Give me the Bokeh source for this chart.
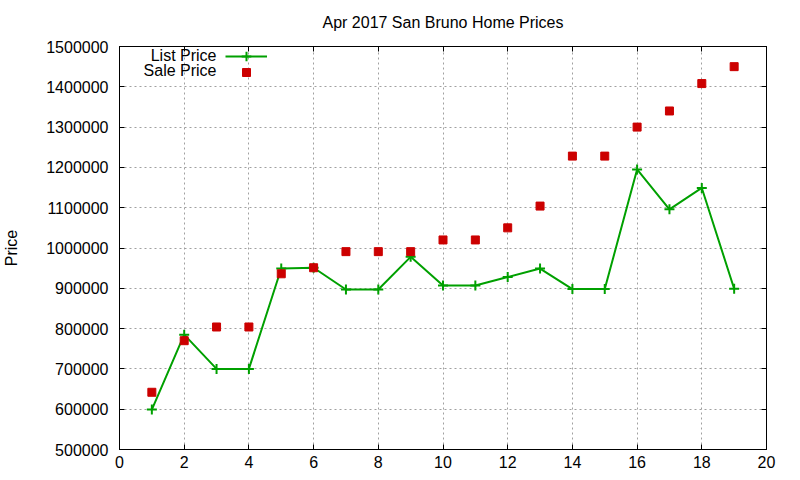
from bokeh.plotting import figure
from bokeh.models import (LinearAxis, Range1d, FixedTicker, BasicTickFormatter,
                          Legend, LegendItem, Label, CustomJSTickFormatter)
from bokeh.embed import file_html
from bokeh.resources import INLINE

# ---- data ----
x_vals = list(range(1, 20))
list_price = [599000, 785000, 700000, 700000, 949000, 951000, 897000, 897000,
              978000, 907000, 907000, 928000, 949000, 898000, 898000,
              1195000, 1096000, 1149000, 899000]
sale_price = [642000, 770000, 804000, 804000, 936000, 951000, 991000, 991000,
              991000, 1020000, 1020000, 1050000, 1104000, 1228000, 1228000,
              1300000, 1340000, 1408000, 1450000]
x_ticks = list(range(0, 21, 2))
y_ticks = list(range(500000, 1500001, 100000))
title_text = "Apr 2017 San Bruno Home Prices"
y_label = "Price"
series_names = ["List Price", "Sale Price"]

FONT = "Liberation Sans"
FS = "16px"
GREEN = "#00a000"
RED = "#cc0000"

p = figure(width=800, height=480,
           x_range=Range1d(0, 20), y_range=Range1d(500000, 1500000),
           output_backend="svg", toolbar_location=None,
           min_border_left=119, min_border_right=34,
           min_border_top=46, min_border_bottom=31)
p.background_fill_color = "white"
p.border_fill_color = "white"
p.outline_line_color = "black"
p.outline_line_width = 1

# axes
p.xaxis.ticker = FixedTicker(ticks=x_ticks)
p.yaxis.ticker = FixedTicker(ticks=y_ticks)
p.yaxis.formatter = BasicTickFormatter(use_scientific=False)
for ax in (p.xaxis[0], p.yaxis[0]):
    ax.major_tick_in = 5
    ax.major_tick_out = 0
    ax.minor_tick_in = 0
    ax.minor_tick_out = 0
    ax.axis_line_color = "black"
    ax.major_tick_line_color = "black"
    ax.major_label_text_font = FONT
    ax.major_label_text_font_size = FS
    ax.major_label_text_color = "black"
p.xaxis.major_label_standoff = 6
p.yaxis.major_label_standoff = 11
p.yaxis.axis_label = y_label
p.yaxis.axis_label_text_font = FONT
p.yaxis.axis_label_text_font_size = FS
p.yaxis.axis_label_text_font_style = "normal"
p.yaxis.axis_label_text_color = "black"
p.yaxis.axis_label_standoff = 23

# mirrored ticks on top and right; the top one carries the chart title
right = LinearAxis(ticker=FixedTicker(ticks=y_ticks),
                   formatter=CustomJSTickFormatter(code="return ''"),
                   major_tick_in=5, major_tick_out=0,
                   minor_tick_in=0, minor_tick_out=0,
                   major_label_standoff=0, axis_line_color="black")
top = LinearAxis(ticker=FixedTicker(ticks=x_ticks),
                 formatter=CustomJSTickFormatter(code="return ''"),
                 major_tick_in=5, major_tick_out=0,
                 minor_tick_in=0, minor_tick_out=0,
                 major_label_standoff=0, axis_line_color="black",
                 axis_label=title_text, axis_label_text_font=FONT,
                 axis_label_text_font_size=FS,
                 axis_label_text_font_style="normal",
                 axis_label_text_color="black",
                 axis_label_standoff=16)
p.add_layout(right, "right")
p.add_layout(top, "above")

# grid
p.xgrid.ticker = FixedTicker(ticks=x_ticks)
p.ygrid.ticker = FixedTicker(ticks=y_ticks)
p.grid.grid_line_color = "#a0a0a0"
p.grid.grid_line_dash = "2 3"
p.grid.grid_line_width = 1

# series
r_line = p.line(x_vals, list_price, line_color=GREEN, line_width=2)
r_lp = p.scatter(x_vals, list_price, marker="cross", size=10,
                 line_color=GREEN, line_width=2)
r_sp = p.scatter(x_vals, sale_price, marker="square", size=8,
                 fill_color=RED, line_color=RED, line_width=1)

leg_style = dict(border_line_color=None, background_fill_alpha=0,
                 padding=0, margin=0, spacing=0, glyph_width=42,
                 label_width=4, label_standoff=0, label_text_font_size="10px")
legend1 = Legend(items=[LegendItem(label=" ", renderers=[r_line, r_lp])],
                 location=(106, 381), glyph_height=24, label_height=24,
                 **leg_style)
legend2 = Legend(items=[LegendItem(label=" ", renderers=[r_sp])],
                 location=(106, 367), glyph_height=20, label_height=20,
                 **leg_style)
p.add_layout(legend1)
p.add_layout(legend2)

p.add_layout(Label(x=97, y=394, x_units="screen", y_units="screen",
                   text=series_names[0], text_align="right",
                   text_baseline="middle", text_font=FONT,
                   text_font_size=FS, text_color="black"))
p.add_layout(Label(x=97, y=379, x_units="screen", y_units="screen",
                   text=series_names[1], text_align="right",
                   text_baseline="middle", text_font=FONT,
                   text_font_size=FS, text_color="black"))

open("out.html", "w").write(file_html(p, INLINE))
